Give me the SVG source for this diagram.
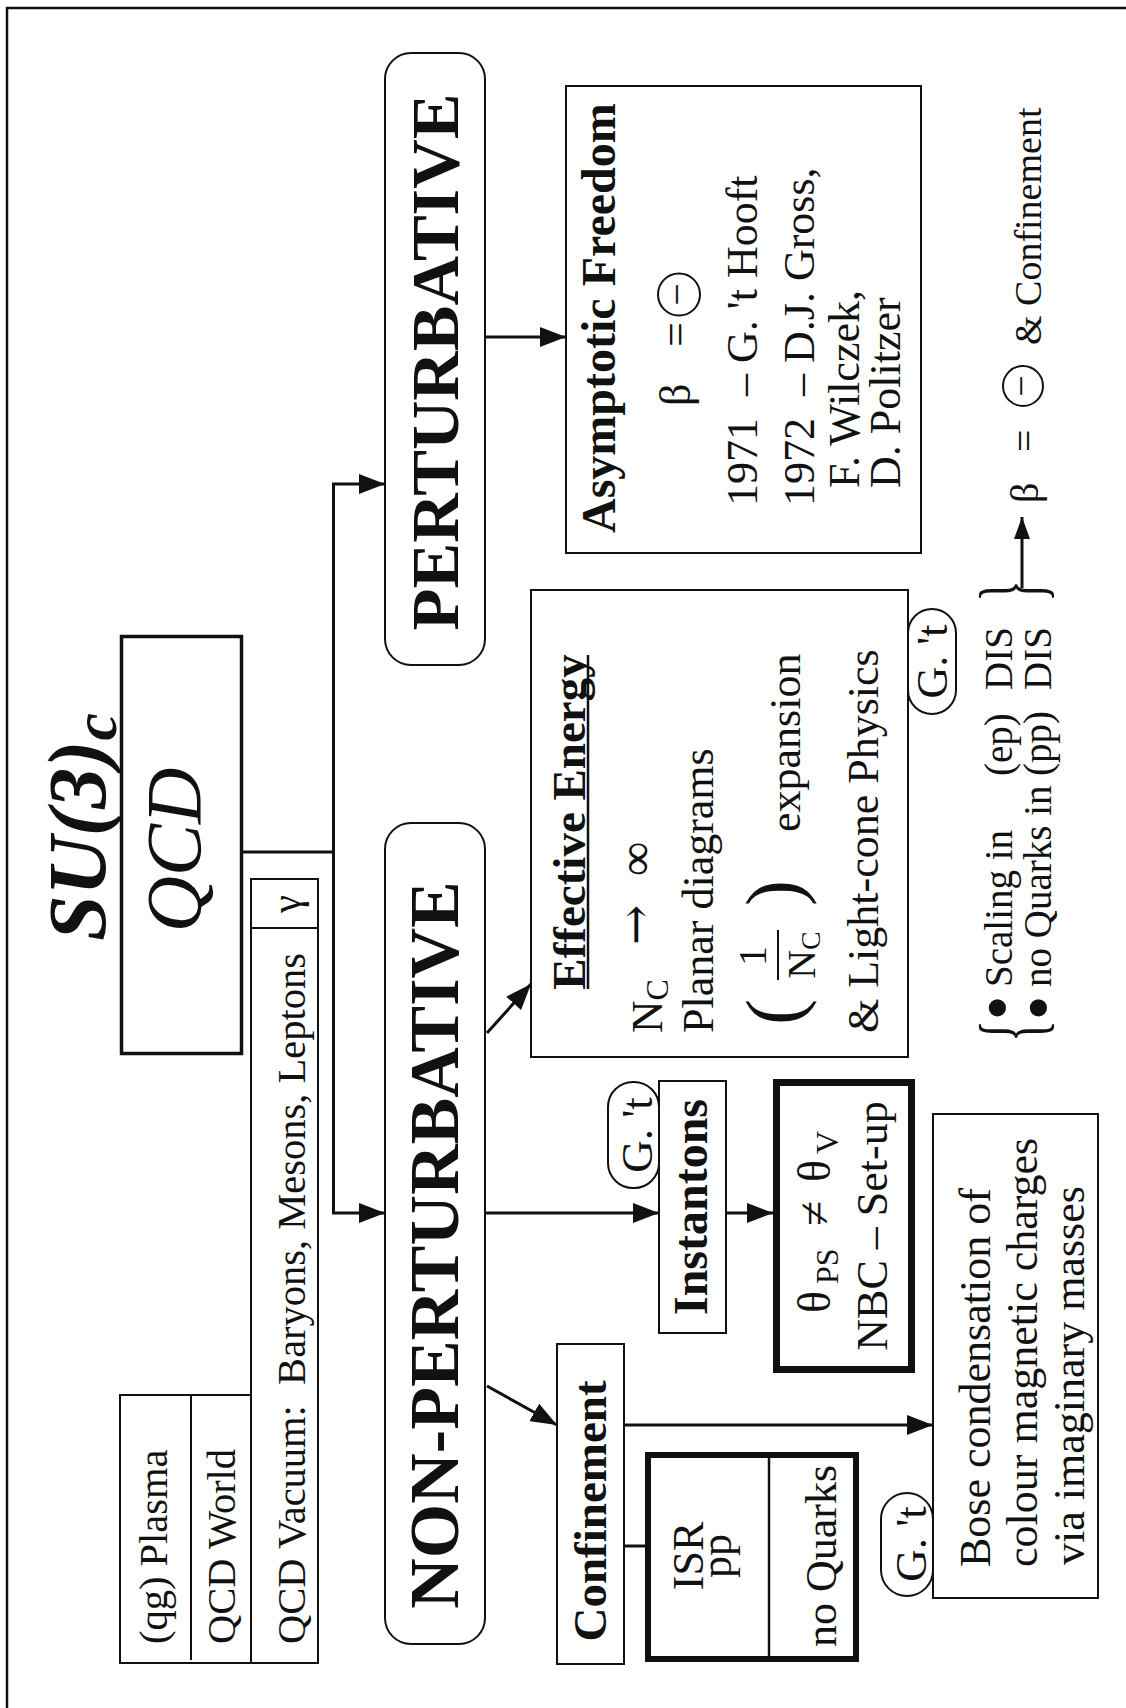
<svg xmlns="http://www.w3.org/2000/svg" width="1126" height="1708" viewBox="0 0 1126 1708">
<style>
text{font-family:"Liberation Serif","Times New Roman",serif;fill:#111;}
.b{font-weight:bold;}
.box{fill:#fff;stroke:#111;stroke-width:2;}
.qbox{stroke-width:3.5;}
.isr{stroke-width:6;}
.thick{fill:#fff;stroke:#111;stroke-width:7;}
.ln{stroke:#111;stroke-width:2;fill:none;}
.ln25{stroke-width:2.5;}
.conn{stroke:#111;stroke-width:3;fill:none;}
.arr{marker-end:url(#ah);}
.m{text-anchor:middle;}
.r45{font-size:44px;}
</style>
<defs>
<marker id="ah" markerUnits="userSpaceOnUse" markerWidth="27" markerHeight="20" refX="26" refY="10" orient="auto"><path d="M0,0 L26,10 L0,20 z" fill="#111"/></marker>
<marker id="ah2" markerUnits="userSpaceOnUse" markerWidth="23" markerHeight="16" refX="22" refY="8" orient="auto"><path d="M0,0 L22,8 L0,16 z" fill="#111"/></marker>
</defs>
<rect width="1126" height="1708" fill="#fff"/>
<path d="M7,1708 V8 H1126" class="ln ln25"/>

<g id="connectors">
<line class="conn" x1="242" y1="852" x2="335" y2="852"/>
<line class="conn" x1="333.5" y1="484" x2="333.5" y2="1213"/>
<line class="conn arr" x1="332" y1="484" x2="385" y2="484"/>
<line class="conn arr" x1="332" y1="1213" x2="385" y2="1213"/>
<line class="conn arr" x1="485" y1="337" x2="566" y2="337"/>
<line class="conn arr" x1="487" y1="1033" x2="531" y2="984"/>
<line class="conn arr" x1="485" y1="1213" x2="659" y2="1213"/>
<line class="conn arr" x1="726" y1="1213" x2="773" y2="1213"/>
<line class="conn arr" x1="487" y1="1386" x2="557" y2="1425"/>
<line class="conn arr" x1="624" y1="1425" x2="933" y2="1425"/>
<line class="conn" x1="624" y1="1546" x2="646" y2="1546"/>
<line class="conn" x1="1022" y1="588" x2="1022" y2="517" marker-end="url(#ah2)"/>
</g>

<g id="title-su3">
<text transform="rotate(-90)" x="-941" y="105" font-size="82" font-style="italic" font-weight="bold">SU(3)<tspan font-size="62" dy="11">c</tspan></text>
</g>

<g id="node-qcd">
<rect class="box qbox" x="121.5" y="636.5" width="120" height="417"/>
<text transform="rotate(-90)" class="m" x="-850" y="200" font-size="78" font-style="italic">QCD</text>
</g>

<g id="node-vacuum">
<rect class="box" x="251" y="879" width="67" height="784"/>
<rect class="box" x="120" y="1395" width="131" height="268"/>
<line class="ln" x1="191" y1="1395" x2="191" y2="1660"/>
<line class="ln" x1="251" y1="928" x2="318" y2="928"/>
<text transform="rotate(-90)" x="-1644" y="167" font-size="40.5">(qg) Plasma</text>
<text transform="rotate(-90)" x="-1644" y="235" font-size="40.5">QCD World</text>
<text transform="rotate(-90)" x="-1644" y="305" font-size="40.5">QCD Vacuum:&#160; Baryons, Mesons, Leptons</text>
<text transform="rotate(-90)" class="m" x="-904" y="300" font-size="40.5">γ</text>
</g>

<g id="node-perturbative">
<rect class="box" x="385" y="53" width="100" height="612" rx="26"/>
<text transform="rotate(-90)" class="m b" x="-362" y="458" font-size="68.5">PERTURBATIVE</text>
</g>

<g id="node-nonperturbative">
<rect class="box" x="385" y="823" width="100" height="821" rx="26"/>
<text transform="rotate(-90)" class="m b" x="-1245" y="458" font-size="70">NON-PERTURBATIVE</text>
</g>

<g id="node-asymptotic">
<rect class="box" x="566" y="86" width="355" height="467"/>
<text transform="rotate(-90)" class="b" x="-533" y="615" font-size="48">Asymptotic Freedom</text>
<text transform="rotate(-90)" x="-406" y="690" class="r45"><tspan>β</tspan><tspan x="-347">=</tspan></text>
<circle cx="679" cy="294.5" r="21" class="ln"/>
<text transform="rotate(-90)" class="m" x="-294.5" y="690" font-size="40">−</text>
<text transform="rotate(-90)" x="-506" y="757" class="r45">1971&#160; – G. 't Hooft</text>
<text transform="rotate(-90)" x="-506" y="814" class="r45">1972&#160; – D.J. Gross,</text>
<text transform="rotate(-90)" x="-488" y="859" class="r45">F. Wilczek,</text>
<text transform="rotate(-90)" x="-488" y="900" class="r45">D. Politzer</text>
</g>

<g id="node-effective">
<rect class="box" x="531" y="590" width="377" height="467"/>
<text transform="rotate(-90)" class="m b" x="-822" y="585" font-size="47">Effective Energy</text>
<line class="ln ln25" x1="588" y1="989" x2="588" y2="655"/>
<text transform="rotate(-90)" x="-1033" y="662" font-size="45">N<tspan font-size="32" dy="6">C</tspan></text>
<text transform="rotate(-90)" class="m" x="-925" y="652" font-size="48" style="font-family:'DejaVu Serif',serif">→</text>
<text transform="rotate(-90)" class="m" x="-859" y="652" font-size="48">∞</text>
<text transform="rotate(-90)" x="-1033" y="713" class="r45">Planar diagrams</text>
<text transform="rotate(-90)" class="m" x="-1012" y="800" font-size="78">(</text>
<text transform="rotate(-90)" class="m" x="-956" y="766" font-size="40">1</text>
<line class="ln" x1="778" y1="930" x2="778" y2="980"/>
<text transform="rotate(-90)" class="m" x="-955" y="815" font-size="40">N<tspan font-size="28" dy="5">C</tspan></text>
<text transform="rotate(-90)" class="m" x="-893" y="800" font-size="78">)</text>
<text transform="rotate(-90)" x="-832" y="800" class="r45">expansion</text>
<text transform="rotate(-90)" x="-1033" y="878" class="r45">&amp; Light-cone Physics</text>
<rect class="box" x="908" y="609" width="48" height="105" rx="24"/>
<text transform="rotate(-90)" class="m r45" x="-661.5" y="947">G. 't</text>
</g>

<g id="node-instantons">
<rect class="box" x="659" y="1081" width="67" height="252"/>
<text transform="rotate(-90)" class="m b" x="-1207" y="707" font-size="48">Instantons</text>
<rect class="box" x="608" y="1082" width="51" height="106" rx="25"/>
<text transform="rotate(-90)" class="m" x="-1135" y="652" font-size="45">G. 't</text>
</g>

<g id="node-theta">
<rect class="thick" x="776.5" y="1082.5" width="135" height="287"/>
<text transform="rotate(-90)" y="830" font-size="46"><tspan x="-1313">θ</tspan><tspan x="-1284" font-size="32" dy="8">PS</tspan><tspan x="-1226" dy="-8">≠</tspan><tspan x="-1182">θ</tspan><tspan x="-1154" font-size="32" dy="8">V</tspan></text>
<text transform="rotate(-90)" class="m r45" x="-1226" y="887">NBC – Set-up</text>
</g>

<g id="node-confinement">
<rect class="box" x="557" y="1344" width="67" height="320"/>
<text transform="rotate(-90)" class="m b" x="-1511" y="606" font-size="47">Confinement</text>
</g>

<g id="node-isr">
<rect class="box isr" x="648" y="1455" width="208" height="204"/>
<line class="ln ln25" x1="769" y1="1455" x2="769" y2="1659"/>
<text transform="rotate(-90)" class="m" x="-1556" y="703" font-size="44">ISR</text>
<text transform="rotate(-90)" class="m" x="-1556" y="731" font-size="44">pp</text>
<text transform="rotate(-90)" class="m" x="-1556" y="836" font-size="44">no Quarks</text>
</g>

<g id="node-bose">
<rect class="box" x="933" y="1114" width="165" height="484"/>
<rect class="box" x="881" y="1493" width="52" height="103" rx="26"/>
<text transform="rotate(-90)" class="m" x="-1544" y="926" font-size="45">G. 't</text>
<text transform="rotate(-90)" x="-1567" y="990" font-size="44">Bose condensation of</text>
<text transform="rotate(-90)" x="-1567" y="1037" font-size="44">colour magnetic charges</text>
<text transform="rotate(-90)" x="-1565" y="1084" font-size="44">via imaginary masses</text>
</g>

<g id="note-dis">
<text transform="translate(1042,1031) rotate(-90) scale(0.5,1)" class="m" font-size="90">{</text>
<text transform="translate(1042,591) rotate(-90) scale(0.5,1)" class="m" font-size="90">}</text>
<text transform="rotate(-90)" class="m" x="-1008" y="1021" font-size="72">•</text>
<text transform="rotate(-90)" class="m" x="-1008" y="1062" font-size="72">•</text>
<text transform="rotate(-90)" y="1012" font-size="39"><tspan x="-987">Scaling in</tspan><tspan x="-776">(ep)</tspan><tspan x="-690">DIS</tspan></text>
<text transform="rotate(-90)" y="1051" font-size="39"><tspan x="-987">no Quarks in</tspan><tspan x="-776">(pp)</tspan><tspan x="-690">DIS</tspan></text>
</g>

<g id="note-beta">
<text transform="rotate(-90)" y="1038" font-size="40"><tspan x="-503">β</tspan><tspan x="-452">=</tspan></text>
<circle cx="1023" cy="386" r="20" class="ln"/>
<text transform="rotate(-90)" class="m" x="-386" y="1034" font-size="38">−</text>
<text transform="rotate(-90)" x="-345" y="1041" font-size="38">&amp; Confinement</text>
</g>
</svg>
